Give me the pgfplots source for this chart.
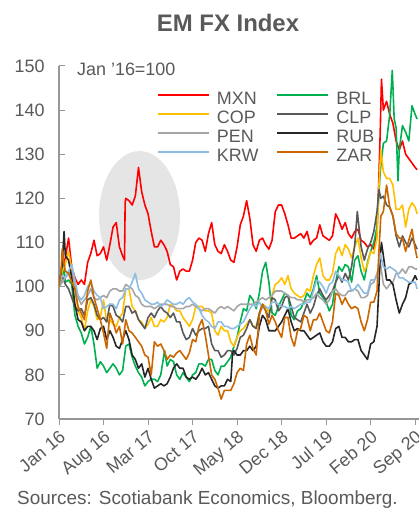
\documentclass[border=0pt]{standalone}
\usepackage{fontspec}
\setmainfont{Liberation Sans}
\usepackage{pgfplots}
\pgfplotsset{compat=1.18}

\definecolor{txtgray}{RGB}{89,89,89}
\definecolor{axisgray}{RGB}{150,150,150}
\definecolor{ellgray}{RGB}{229,229,229}
\definecolor{cMXN}{RGB}{255,0,0}
\definecolor{cBRL}{RGB}{0,176,80}
\definecolor{cCOP}{RGB}{255,192,0}
\definecolor{cCLP}{RGB}{89,89,89}
\definecolor{cPEN}{RGB}{166,166,166}
\definecolor{cRUB}{RGB}{38,38,38}
\definecolor{cKRW}{RGB}{143,189,226}
\definecolor{cZAR}{RGB}{204,102,0}

\begin{document}
\begin{tikzpicture}
\useasboundingbox (-59bp,-89bp) rectangle (360bp,419bp);
\begin{axis}[
  at={(0,0)}, anchor=south west,
  scale only axis, width=360bp, height=353bp,
  xmin=0, xmax=56.6, ymin=70, ymax=150,
  clip mode=individual,
  axis x line*=bottom, axis y line*=left,
  axis line style={draw=axisgray, line width=1.2bp},
  xtick={0,7,14,21,28,35,42,49,56},
  xticklabels={Jan 16, Aug 16, Mar 17, Oct 17, May 18, Dec 18, Jul 19, Feb 20, Sep 20},
  ytick={70,80,...,150},
  tick align=outside, major tick length=6bp,
  tick style={draw=axisgray, line width=1bp},
  ytick style={xshift=6bp},
  /pgf/number format/assume math mode=true,
  yticklabel style={font=\fontsize{18}{20}\selectfont, text=txtgray, xshift=-5bp},
  xticklabel style={font=\fontsize{18}{20}\selectfont, text=txtgray, rotate=40, anchor=north east, inner sep=3bp},
  legend style={at={(0.272,0.928)}, anchor=north west, draw=none, fill=none,
    inner sep=0pt, outer sep=0pt, font=\fontsize{18}{19}\selectfont, text=txtgray,
    nodes={inner sep=0pt, text height=13pt, text depth=4pt},
    /tikz/every odd column/.append style={column sep=7bp},
    /tikz/every even column/.append style={column sep=18bp},
    row sep=2pt},
  legend columns=2, legend cell align=left,
  legend image code/.code={\draw[#1, line width=2bp] (0bp,4.5bp) -- (51bp,4.5bp);},
  every axis plot/.append style={line width=1.6bp, line join=round},
]
\fill[ellgray] (axis cs:12.66,116.1) ellipse [x radius=40.5bp, y radius=64.5bp];

% MXN
\addplot[cMXN] coordinates {(0,100) (0.5,104.5) (1,106.5) (1.5,111) (2,104.5) (2.5,102) (3,100.5) (3.5,101.5) (4,100.5) (4.5,105.5) (5,107.5) (5.5,110.5) (6,107) (6.5,107.5) (7,109) (7.5,106) (8,109.5) (8.5,113.5) (9,114.5) (9.5,109) (10,107) (10.3,106) (10.4,119) (10.5,120) (11,119.5) (11.5,118.5) (12,120.5) (12.5,127) (13,121.5) (13.5,118.5) (14,116.5) (14.5,112.5) (15,109) (15.5,109) (16,110.5) (16.5,109.5) (17,108) (17.5,105) (18,104.5) (18.5,101.5) (19,103.5) (19.5,104) (20,103.5) (20.5,103.5) (21,106) (21.5,110) (22,111) (22.5,110.5) (23,108) (23.5,112) (24,114.5) (24.5,109.5) (25,108) (25.5,107.5) (26,109.5) (26.5,108) (27,106) (27.5,105.5) (28,109) (28.5,114) (29,116) (29.5,119.5) (30,115.5) (30.5,109.5) (31,108) (31.5,110.5) (32,111) (32.5,109.5) (33,108.5) (33.5,110.5) (34,117) (34.5,118.5) (35,118.5) (35.5,116.5) (36,114) (36.5,111) (37,111) (37.5,111.5) (38,112) (38.5,111) (39,112.5) (39.5,109.5) (40,110.5) (40.5,111) (41,114) (41.5,111.5) (42,111) (42.5,110.5) (43,111.5) (43.5,116.5) (44,115) (44.5,113) (45,114.5) (45.5,112) (46,111) (46.5,112.5) (47,113) (47.5,110.5) (48,110) (48.5,109) (49,109.5) (49.5,108.5) (50,113) (50.3,125) (50.5,135) (50.7,147) (51,140) (51.5,142) (52,139) (52.5,137) (53,133) (53.5,131) (54,133) (54.5,130) (55,129) (55.5,128) (56,127) (56.3,126.5)};
\addlegendentry{MXN}
% BRL
\addplot[cBRL] coordinates {(0,100) (0.5,102) (0.7,105.3) (1,101) (1.5,101.5) (2,100.5) (2.5,93.5) (3,91) (3.5,89.5) (4,87) (4.5,88.5) (5,91) (5.5,87) (6,81.5) (6.5,83) (7,82) (7.5,80.5) (8,81.5) (8.5,82.5) (9,81.5) (9.5,80) (10,81) (10.5,86.5) (11,87) (11.5,84) (12,82) (12.5,80.5) (13,79.5) (13.5,77.5) (14,78.5) (14.5,79) (15,79) (15.5,78.5) (16,80) (16.6,85.5) (17,82) (17.5,83.5) (18,83) (18.5,80) (19,79) (19.5,80.5) (20,79.5) (20.5,78.5) (21,80) (21.5,80.5) (22,82.5) (22.5,82.5) (23,82) (23.5,83.5) (24,83.5) (24.5,81) (25,80) (25.5,82) (26,82) (26.5,83) (27,84) (27.5,86.5) (28,88.5) (28.5,92) (29,95) (29.5,94.5) (30,98) (30.5,97) (31,95) (31.5,98.5) (32,103.5) (32.5,105.5) (33,101) (33.5,94) (34,93.5) (34.5,95.5) (35,97) (35.5,98.5) (36,98) (36.5,93.5) (37,92.5) (37.5,94.5) (38,95) (38.5,96.5) (39,98.5) (39.5,97.5) (40,99.5) (40.5,102.5) (41,98.5) (41.5,97.5) (42,96.5) (42.5,94.5) (43,96) (43.5,101) (44,104.5) (44.5,103.5) (45,105) (45.5,104.5) (46,101) (46.5,106) (47,107) (47.5,103.5) (48,101.5) (48.5,105.5) (49,108) (49.5,110) (50,113.5) (50.5,126) (51,132.5) (51.5,133) (52,139) (52.4,149) (52.7,138) (53,136) (53.3,124) (53.5,131) (54,136.5) (54.5,135) (55,133) (55.5,141) (56,139) (56.3,138)};
\addlegendentry{BRL}
% COP
\addplot[cCOP] coordinates {(0,100) (0.5,103.5) (1,105) (1.5,108) (2,104) (2.5,99.5) (3,94.5) (3.5,93) (4,90) (4.5,94.5) (5,97) (5.5,95.5) (6,92.5) (6.5,93) (7,97) (7.5,92) (8,92.5) (8.5,91.5) (9,91) (9.5,93) (10,94) (10.5,99.5) (11,99.5) (11.5,95.5) (12,94.5) (12.5,92.5) (13,92) (13.5,90.5) (14,91.5) (14.5,93) (15,91) (15.5,91) (16,92.5) (16.5,92) (17,93) (17.5,96) (18,95.5) (18.5,94.5) (19,94.5) (19.5,93) (20,92) (20.5,91) (21,92.5) (21.5,95.5) (22,95.5) (22.5,95.5) (23,94.5) (23.5,94.5) (24,94) (24.5,90) (25,89) (25.5,91) (26,90) (26.5,90) (27,87.5) (27.5,86.5) (28,88.5) (28.5,90) (29,90.5) (29.5,91.5) (30,92.5) (30.5,91) (31,91) (31.5,94) (32,96) (32.5,95.5) (33,94) (33.5,98) (34,100.5) (34.5,101) (35,102) (35.5,100.5) (36,102.5) (36.5,99.5) (37,98.5) (37.5,98) (38,97.5) (38.5,98) (39,99.5) (39.5,99) (40,102.5) (40.5,105) (41,106.5) (41.5,102.5) (42,101.5) (42.5,101.5) (43,103) (43.5,107.5) (44,109) (44.5,107) (45,109.5) (45.5,108.5) (46,106.5) (46.5,109) (47,111) (47.5,106.5) (48,103.5) (48.5,105) (49,108) (49.5,107.5) (50,111) (50.3,123) (50.6,131) (51,126) (51.5,124.5) (52,124.5) (52.5,123) (53,117.5) (53.5,117.5) (54,118.5) (54.5,113.5) (55,117.5) (55.5,119) (56,118) (56.3,116.5)};
\addlegendentry{COP}
% CLP
\addplot[cCLP] coordinates {(0,100) (0.5,102.5) (1,100.5) (1.5,99.5) (2,97.5) (2.5,95.5) (3,94.5) (3.5,95) (4,93.5) (4.5,97) (5,97.5) (5.5,96) (6,93.5) (6.5,92.5) (7,93) (7.5,92) (8,96) (8.5,95.5) (9,93.5) (9.5,93) (10,92) (10.5,95.5) (11,95.5) (11.5,94) (12,94.5) (12.5,92.5) (13,91.5) (13.5,90.5) (14,93) (14.5,94) (15,93) (15.5,94.5) (16,95.5) (16.5,94.5) (17,94) (17.5,93) (18,94) (18.5,92) (19,92) (19.5,89.5) (20,88) (20.5,88.5) (21,90.5) (21.5,89) (22,90) (22.5,90.5) (23,90.5) (23.5,91) (24,87) (24.5,85.5) (25,85.5) (25.5,84) (26,84.5) (26.5,85.5) (27,85.5) (27.5,84.5) (28,86) (28.5,88.5) (29,89) (29.5,90.5) (30,92.5) (30.5,91) (31,90.5) (31.5,94) (32,96) (32.5,94.5) (33,93) (33.5,97.5) (34,97) (34.5,94.5) (35,95.5) (35.5,97.5) (36,98) (36.5,95.5) (37,93) (37.5,92.5) (38,92) (38.5,94) (39,96) (39.5,94) (40,95.5) (40.5,98) (41,99.5) (41.5,98) (42,97) (42.5,98) (43,99) (43.5,101) (44,102.5) (44.5,101) (45,103) (45.5,101.5) (46,104.5) (46.5,109.5) (46.9,117) (47.5,109) (48,106) (48.5,108.5) (49,110) (49.5,112.5) (50,117) (50.3,122) (50.6,120) (51,120.5) (51.5,118.5) (52,118) (52.5,116) (53,111.5) (53.5,109) (54,111.5) (54.5,110) (55,109) (55.5,111) (56,109.5) (56.3,108.5)};
\addlegendentry{CLP}
% PEN
\addplot[cPEN] coordinates {(0,100) (0.5,101) (1,102) (1.5,103) (2,103.5) (2.5,100.5) (3,97.5) (3.5,96) (4,97) (4.5,98) (5,99.5) (5.5,97.5) (6,97) (6.5,97.5) (7,98) (7.5,97.5) (8,99) (8.5,99.5) (9,99.5) (9.5,99) (10,99) (10.5,100.5) (11,100) (11.5,99.5) (12,98) (12.5,97.5) (13,96) (13.5,95.5) (14,95.5) (14.5,95.5) (15,95) (15.5,95.5) (16,96) (16.5,96) (17,96) (17.5,95.5) (18,95.5) (18.5,95) (19,95) (19.5,95) (20,95.5) (20.5,95.5) (21,96) (21.5,95.5) (22,95) (22.5,94.5) (23,95) (23.5,95) (24,94.5) (24.5,94) (25,95) (25.5,95.5) (26,95) (26.5,95.5) (27,95) (27.5,94.5) (28,95.5) (28.5,96) (29,96) (29.5,96) (30,96) (30.5,96) (31,96.5) (31.5,97) (32,97.5) (32.5,97) (33,97.5) (33.5,98) (34,99) (34.5,99) (35,99) (35.5,98.5) (36,98) (36.5,97.5) (37,97.5) (37.5,97) (38,97) (38.5,96.5) (39,97) (39.5,97) (40,97.5) (40.5,98.5) (41,97.5) (41.5,97) (42,96) (42.5,97) (43,99) (43.5,99.5) (44,98.5) (44.5,98) (45,98) (45.5,99) (46,99) (46.5,99.5) (47,99) (47.5,97.5) (48,97.5) (48.5,98) (49,100.5) (49.5,101) (50,103) (50.5,105.5) (51,100.5) (51.5,99.5) (52,100.5) (52.5,101) (53,103) (53.5,103) (54,104) (54.5,103) (55,104.5) (55.5,104.5) (56,104) (56.3,104)};
\addlegendentry{PEN}
% RUB
\addplot[cRUB] coordinates {(0,100) (0.5,105) (0.8,112.5) (1,107) (1.5,106) (2,102) (2.5,96) (3,92.5) (3.5,92) (4,90) (4.5,91) (5,91) (5.5,90) (6,88) (6.5,90.5) (7,91) (7.5,88) (8,90) (8.5,88.5) (9,86.5) (9.5,86) (10,88) (10.5,90) (11,88) (11.5,84.5) (12,83.5) (12.5,81.5) (13,82.5) (13.5,79.5) (14,81.5) (14.5,79) (15,77) (15.5,77.5) (16,78) (16.5,77.5) (17,78) (17.5,79.5) (18,81.5) (18.5,82.5) (19,81.5) (19.5,81.5) (20,79.5) (20.5,79) (21,79.5) (21.5,79) (22,80) (22.5,81.5) (23,80) (23.5,80.5) (24,79) (24.5,77.5) (25,77) (25.5,77.5) (26,77.5) (26.5,79) (27,78.5) (27.3,85) (27.5,85.5) (28,84.5) (28.5,84.5) (29,85.5) (29.5,85.5) (30,86.5) (30.5,85.5) (31,86.5) (31.5,91) (32,93.5) (32.5,92.5) (33,90) (33.5,90) (34,90) (34.5,91) (35,92) (35.5,93.5) (36,95) (36.5,92) (37,90) (37.5,90.5) (38,90) (38.5,90) (39,89) (39.5,88) (40,88.5) (40.5,89) (41,89.5) (41.5,87.5) (42,86.5) (42.5,86.5) (43,87.5) (43.5,90.5) (44,91) (44.5,88.5) (45,88.5) (45.5,87.5) (46,87.5) (46.5,88) (47,88) (47.5,85.5) (48,84.5) (48.5,83.5) (49,87) (49.5,87.5) (50,91) (50.3,100) (50.5,107) (50.7,110) (51,107) (51.5,101.5) (52,101.5) (52.5,100.5) (53,97) (53.5,94) (54,96) (54.5,97.5) (55,100.5) (55.5,101) (56,102.5) (56.3,101.5)};
\addlegendentry{RUB}
% KRW
\addplot[cKRW] coordinates {(0,100) (0.5,102.5) (1,102) (1.5,103.5) (2,105) (2.5,101.5) (3,98) (3.5,97) (4,98) (4.5,100) (5,101) (5.5,99) (6,98) (6.5,97.5) (7,95) (7.5,95.5) (8,96) (8.5,96) (9,95) (9.5,97) (10,97.5) (10.5,99.5) (11,99.5) (11.5,101) (12,103) (12.5,99.5) (13,98.5) (13.5,97) (14,96.5) (14.5,96) (15,96) (15.5,96.5) (16,95.5) (16.5,96) (17,97) (17.5,96.5) (18,96) (18.5,96) (19,96.5) (19.5,96) (20,97) (20.5,97.5) (21,96.5) (21.5,96) (22,95) (22.5,93.5) (23,92.5) (23.5,92) (24,91) (24.5,90.5) (25,92) (25.5,92) (26,91) (26.5,91) (27,90.5) (27.5,90.5) (28,91) (28.5,91.5) (29,92) (29.5,93.5) (30,95) (30.5,96) (31,95.5) (31.5,96.5) (32,95) (32.5,95.5) (33,95) (33.5,96.5) (34,96.5) (34.5,96) (35,95.5) (35.5,95.5) (36,95) (36.5,95.5) (37,95) (37.5,95.5) (38,96) (38.5,96) (39,96.5) (39.5,96.5) (40,99) (40.5,101.5) (41,101) (41.5,100) (42,98.5) (42.5,100.5) (43,101) (43.5,103.5) (44,102.5) (44.5,101.5) (45,101.5) (45.5,101) (46,99) (46.5,99.5) (47,100.5) (47.5,99.5) (48,98.5) (48.5,98.5) (49,101.5) (49.5,101.5) (50,102) (50.5,107.5) (51,104.5) (51.5,104) (52,104.5) (52.5,104) (53,103.5) (53.5,102) (54,102) (54.5,101.5) (55,101) (55.5,101) (56,101) (56.3,99.5)};
\addlegendentry{KRW}
% ZAR
\addplot[cZAR] coordinates {(0,100) (0.3,103) (0.5,108.5) (0.8,105) (1,103.5) (1.5,103) (2,101) (2.5,99.5) (3,95.5) (3.5,94) (4,92.5) (4.5,99) (5,101.5) (5.5,97.5) (6,95) (6.5,92.5) (7,89.5) (7.5,86) (8,94) (8.5,92) (9,89.5) (9.5,91) (10,87) (10.5,92.5) (11,90) (11.5,89.5) (12,88.5) (12.5,87.5) (13,86.5) (13.5,84.5) (14,84) (14.5,80) (15,87.5) (15.5,86.5) (16,87) (16.5,85.5) (17,83.5) (17.5,84.5) (18,84) (18.5,85) (19,85.5) (19.5,84.5) (20,83.5) (20.5,85) (21,88) (21.5,87.5) (22,91) (22.5,92.5) (23,89) (23.5,84.5) (24,80) (24.5,79) (25,77) (25.5,74.5) (26,76.5) (26.5,76.5) (27,76.5) (27.5,78) (28,80.5) (28.5,81.5) (29,81) (29.5,87) (30,89) (30.5,86) (31,84.5) (31.5,93.5) (32,96) (32.5,94.5) (33,91.5) (33.5,93.5) (34,92) (34.5,90) (35,88.5) (35.5,93) (36,93) (36.5,88.5) (37,86.5) (37.5,90) (38,90.5) (38.5,93.5) (39,93) (39.5,90) (40,92.5) (40.5,92.5) (41,94) (41.5,92) (42,90) (42.5,89.5) (43,92) (43.5,98.5) (44,98) (44.5,96) (45,97.5) (45.5,96) (46,95) (46.5,95.5) (47,95) (47.5,92) (48,90) (48.5,92.5) (49,96.5) (49.5,96.5) (50,99) (50.3,108) (50.6,116) (51,117) (51.5,123) (52,118) (52.5,116) (53,112) (53.5,111) (54,111) (54.5,108) (55,110.5) (55.5,113) (56,108.5) (56.3,106.5)};
\addlegendentry{ZAR}

\node[anchor=base west, inner sep=0pt, font=\fontsize{18}{20}\selectfont, text=txtgray]
  at (rel axis cs:0.05,0.9717) {Jan '16=100};
\end{axis}
\node[anchor=base, inner sep=0pt, font=\fontsize{24}{26}\selectfont\bfseries, text=txtgray]
  at (169bp,387bp) {EM FX Index};
\node[anchor=base west, inner sep=0pt, font=\fontsize{19}{21}\selectfont, text=txtgray]
  at (-42bp,-85bp) {Sources: Scotiabank Economics, Bloomberg.};
\end{tikzpicture}
\end{document}
